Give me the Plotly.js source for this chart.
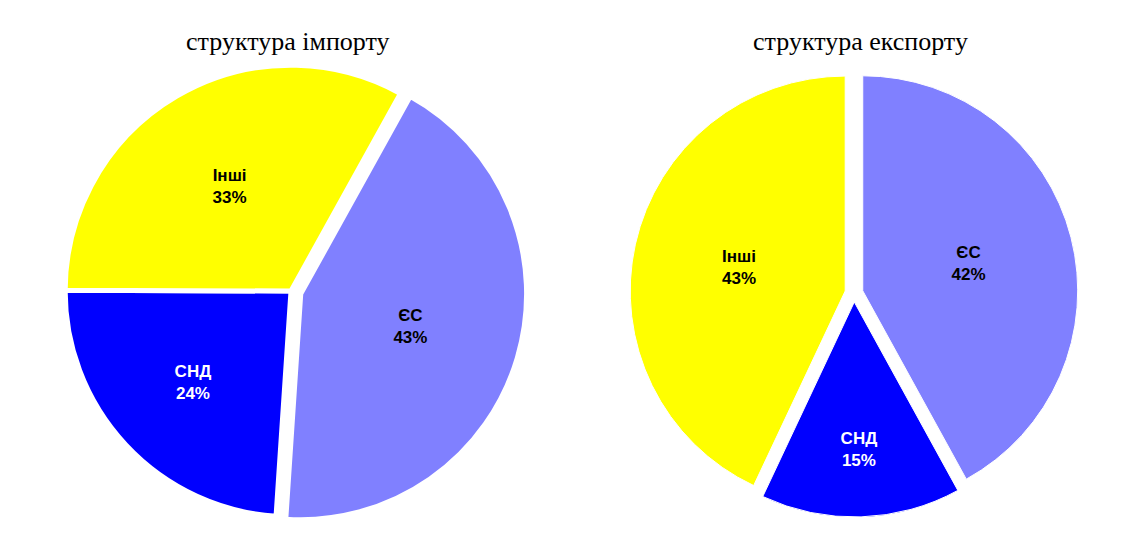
<!DOCTYPE html>
<html>
<head>
<meta charset="utf-8">
<script src="https://cdn.plot.ly/plotly-3.0.1.min.js"></script>
<style>html,body{margin:0;padding:0;background:#fff;}#chart{width:1132px;height:535px;}</style>
</head>
<body>
<div id="chart"></div>
<script>
// Data
const categories = ['ЄС', 'СНД', 'Інші'];
const importShares = [43, 24, 33];
const exportShares = [42, 15, 43];
const chartTitles = ['структура імпорту', 'структура експорту'];
const sliceColors = ['#8080FF', '#0000FF', '#FFFF00'];
const textColors = ['#000000', '#FFFFFF', '#000000'];

const W = 1132, H = 535;
function dom(cx, cy, half) {
  return {x: [(cx - half) / W, (cx + half) / W], y: [1 - (cy + half) / H, 1 - (cy - half) / H]};
}

const common = {
  type: 'pie',
  labels: categories,
  sort: false,
  direction: 'clockwise',
  textinfo: 'text',
  texttemplate: '%{label}<br>%{value}%',
  textposition: 'inside',
  insidetextorientation: 'horizontal',
  textfont: {family: 'Liberation Sans, Arial, sans-serif', size: 17, weight: 'bold', color: textColors},
  hoverinfo: 'label+percent',
  showlegend: false
};

const importTrace = Object.assign({}, common, {
  values: importShares,
  rotation: 29,
  pull: [0.045, 0, 0],
  marker: {colors: sliceColors, line: {color: '#FFFFFF', width: 5}},
  domain: dom(291, 291, 236)
});

const exportTrace = Object.assign({}, common, {
  values: exportShares,
  rotation: 0,
  pull: [0.042, 0.042, 0.042],
  marker: {colors: sliceColors, line: {color: '#FFFFFF', width: 1}},
  domain: dom(854, 293, 224)
});

const layout = {
  width: W, height: H,
  margin: {l: 0, r: 0, t: 0, b: 0},
  paper_bgcolor: '#FFFFFF',
  plot_bgcolor: '#FFFFFF',
  showlegend: false,
  annotations: [
    {text: chartTitles[0], x: 288 / W, y: 1 - 41 / H, xref: 'paper', yref: 'paper', showarrow: false,
     xanchor: 'center', yanchor: 'middle', font: {family: 'Liberation Serif, Times New Roman, serif', size: 26, color: '#000'}},
    {text: chartTitles[1], x: 860 / W, y: 1 - 41 / H, xref: 'paper', yref: 'paper', showarrow: false,
     xanchor: 'center', yanchor: 'middle', font: {family: 'Liberation Serif, Times New Roman, serif', size: 26, color: '#000'}}
  ]
};

Plotly.newPlot('chart', [importTrace, exportTrace], layout, {staticPlot: true});
</script>
</body>
</html>
